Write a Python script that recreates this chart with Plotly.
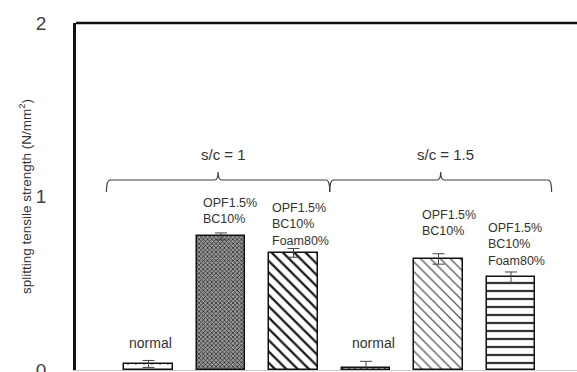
import plotly.graph_objects as go

# Splitting tensile strength of the six mixes, two sand/cement ratios
positions = [0, 1, 2, 3, 4, 5]
strength = [0.035, 0.77, 0.675, 0.01, 0.64, 0.535]
strength_err = [0.02, 0.02, 0.025, 0.04, 0.03, 0.03]
bar_labels = ["normal", "OPF1.5%<br>BC10%", "OPF1.5%<br>BC10%<br>Foam80%",
              "normal", "OPF1.5%<br>BC10%", "OPF1.5%<br>BC10%<br>Foam80%"]
group_names = ["s/c = 1", "s/c = 1.5"]
y_ticks = [0, 1, 2]

# label placement (x offset from bar centre, y of the label's top / middle)
label_dx = [0.03, -0.27, -0.32, 0.1, -0.26, -0.34]
label_y = [0.156, 1.014, 0.986, 0.156, 0.945, 0.870]
group_spans = [(-0.58, 2.5), (2.5, 5.56)]

# fill style per bar
patterns = [
    dict(shape=".", fgcolor="#666666", bgcolor="white", size=8, solidity=0.15),
    dict(shape="x", fgcolor="#2a2a2a", bgcolor="#9a9a9a", size=3, solidity=0.45),
    dict(shape="\\", fgcolor="#1a1a1a", bgcolor="white", size=8, solidity=0.28),
    dict(shape="|", fgcolor="#333333", bgcolor="white", size=6, solidity=0.2),
    dict(shape="\\", fgcolor="#333333", bgcolor="white", size=7, solidity=0.16),
    dict(shape="-", fgcolor="#333333", bgcolor="white", size=8, solidity=0.28),
]

fig = go.Figure()
for i in range(len(positions)):
    fig.add_trace(go.Bar(
        x=[positions[i]], y=[strength[i]], width=0.67,
        marker=dict(color="white", line=dict(color="#111111", width=1.5),
                    pattern=dict(fillmode="replace", **patterns[i])),
        error_y=dict(type="data", array=[strength_err[i]], color="#444444",
                     thickness=1, width=6),
        showlegend=False, hoverinfo="skip",
    ))

annotations = []
for i, lab in enumerate(bar_labels):
    if lab == "normal":
        annotations.append(dict(x=positions[i] + label_dx[i], y=label_y[i],
                                text=lab, showarrow=False,
                                xanchor="center", yanchor="middle",
                                font=dict(size=14, color="#333333")))
    else:
        annotations.append(dict(x=positions[i] + label_dx[i], y=label_y[i],
                                text=lab, showarrow=False, xanchor="left",
                                yanchor="top", align="left",
                                font=dict(size=12.5, color="#333333")))

# curly braces over each group
shapes = []
y_line, y_end, y_tip = 1.095, 1.026, 1.141
d = 0.05
for (x0, x1), name in zip(group_spans, group_names):
    xm = (x0 + x1) / 2
    path = (f"M {x0},{y_end} Q {x0},{y_line} {x0 + d},{y_line} "
            f"L {xm - d},{y_line} Q {xm},{y_line} {xm},{y_tip} "
            f"Q {xm},{y_line} {xm + d},{y_line} L {x1 - d},{y_line} "
            f"Q {x1},{y_line} {x1},{y_end}")
    shapes.append(dict(type="path", path=path, xref="x", yref="y",
                       line=dict(color="#404040", width=1.2)))
    annotations.append(dict(x=xm + 0.07, y=1.24, text=name, showarrow=False,
                            xanchor="center", yanchor="middle",
                            font=dict(size=15, color="#333333")))

# top border of the plotting frame
shapes.append(dict(type="line", xref="paper", yref="paper", x0=0, x1=1,
                   y0=1, y1=1, line=dict(color="#111111", width=2.5)))

fig.update_layout(
    width=577, height=372,
    margin=dict(l=76, r=0, t=23, b=2, autoexpand=False),
    plot_bgcolor="white", paper_bgcolor="white",
    font=dict(family="Liberation Sans, Arial, sans-serif", color="#333333"),
    shapes=shapes, annotations=annotations,
    xaxis=dict(range=[-1, 5.91], showticklabels=False, ticks="",
               showgrid=False, zeroline=False, showline=True,
               linecolor="#c8c8c8", linewidth=1, automargin=False),
    yaxis=dict(range=[0, 2], tickvals=y_ticks, showgrid=False,
               zeroline=False, showline=True, linecolor="#111111",
               linewidth=2.5, ticks="", ticklabelstandoff=23,
               ticklabeloverflow="allow", automargin=False,
               tickfont=dict(size=19, color="#404040"),
               title=dict(text="splitting tensile strength (N/mm<sup>2</sup>)",
                          font=dict(size=13.5, color="#333333"), standoff=2)),
    bargap=0,
)

fig.write_html("out.html")
